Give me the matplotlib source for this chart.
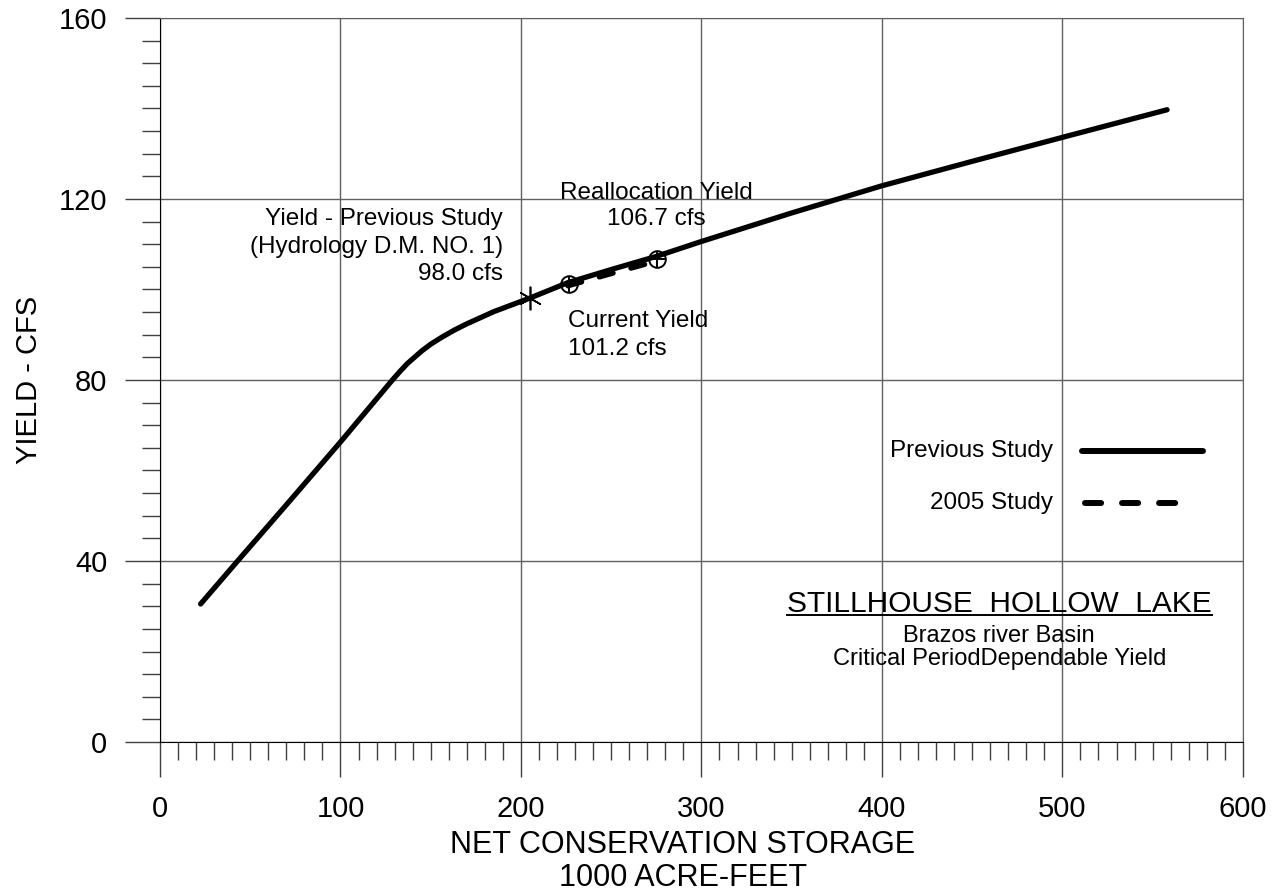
import matplotlib
matplotlib.use('Agg')
import matplotlib.pyplot as plt
from matplotlib.ticker import MultipleLocator

plt.rcParams['font.family'] = ['Liberation Sans', 'DejaVu Sans']

# previous study yield curve (storage in 1000 ac-ft, yield in cfs)
storage = [22.5, 43, 70, 100, 129, 133, 137, 141, 145, 150, 156, 163, 170,
           185, 205, 226, 250, 275, 300, 350, 400, 450, 500, 558]
yield_prev = [30.5, 40, 52.4, 66.3, 80.1, 81.9, 83.6, 85.0, 86.4, 87.9, 89.4,
              91.0, 92.4, 95.1, 98.1, 101.5, 104.4, 107.3, 110.6, 116.9,
              122.9, 128.3, 133.6, 139.7]

# 2005 study segment
storage_2005 = [226, 250, 275.5]
yield_2005 = [101.2, 103.9, 106.7]

prev_pt = (205, 98.0)
current_pt = (226.5, 101.2)
realloc_pt = (275.5, 106.7)

fig = plt.figure(figsize=(12.8, 8.94), dpi=100)
ax = fig.add_axes([0.125, 0.17, 0.846, 0.81])

ax.set_xlim(0, 600)
ax.set_ylim(0, 160)
ax.xaxis.set_major_locator(MultipleLocator(100))
ax.xaxis.set_minor_locator(MultipleLocator(10))
ax.yaxis.set_major_locator(MultipleLocator(40))
ax.yaxis.set_minor_locator(MultipleLocator(5))

ax.grid(True, which='major', color='#606060', linewidth=1)
ax.tick_params(which='major', direction='out', length=25, width=1,
               color='#404040', labelsize=21)
ax.tick_params(axis='x', which='major', pad=13)
ax.tick_params(axis='y', which='major', pad=13)
ax.tick_params(which='minor', direction='out', length=13, width=1,
               color='#404040')
for side in ['top', 'right']:
    ax.spines[side].set_color('#606060')
for side in ['left', 'bottom']:
    ax.spines[side].set_color('black')

ax.plot(storage, yield_prev, color='black', linewidth=3.8,
        solid_capstyle='round', solid_joinstyle='round', zorder=3)
ax.plot(storage_2005, [v - 0.4 for v in yield_2005], color='black',
        linewidth=3.8, linestyle=(0, (2.7, 3.5)), dash_capstyle='round',
        zorder=3)

ax.plot(*prev_pt, marker=(6, 2, 0), markersize=17, color='black',
        markeredgewidth=1.2, zorder=4)
for pt in [current_pt, realloc_pt]:
    ax.plot(*pt, marker='o', markersize=12, fillstyle='none', color='black',
            markeredgewidth=1.4, zorder=4)
    ax.plot(*pt, marker='+', markersize=12, color='black',
            markeredgewidth=1.4, zorder=4)

fs = 17.5
ax.text(190, 114.3, 'Yield - Previous Study', ha='right', va='baseline', fontsize=fs)
ax.text(190, 108.1, '(Hydrology D.M. NO. 1)', ha='right', va='baseline', fontsize=fs)
ax.text(190, 102.1, '98.0 cfs', ha='right', va='baseline', fontsize=fs)
ax.text(274.8, 119.9, 'Reallocation Yield', ha='center', va='baseline', fontsize=fs)
ax.text(274.8, 114.3, '106.7 cfs', ha='center', va='baseline', fontsize=fs)
ax.text(226, 91.7, 'Current Yield', ha='left', va='baseline', fontsize=fs)
ax.text(226, 85.5, '101.2 cfs', ha='left', va='baseline', fontsize=fs)

# legend drawn by hand
ax.text(494.7, 64.4, 'Previous Study', ha='right', va='center', fontsize=fs)
ax.plot([511, 578], [64.4, 64.4], color='black', linewidth=4.3,
        solid_capstyle='round')
ax.text(494.7, 52.8, '2005 Study', ha='right', va='center', fontsize=fs)
ax.plot([512.5, 565], [52.8, 52.8], color='black', linewidth=4.3,
        linestyle=(0, (2.7, 3.5)), dash_capstyle='round')

title = ax.text(465, 28.7, 'STILLHOUSE  HOLLOW  LAKE', ha='center',
                va='baseline', fontsize=21.5)
ax.text(465, 22.1, 'Brazos river Basin', ha='center', va='baseline', fontsize=17)
ax.text(465, 17.0, 'Critical PeriodDependable Yield', ha='center',
        va='baseline', fontsize=17)

ax.set_xlabel('NET CONSERVATION STORAGE\n1000 ACRE-FEET', fontsize=22,
              linespacing=1.1)
ax.xaxis.set_label_coords(0.483, -0.122)
ax.xaxis.label.set_va('top')
ax.set_ylabel('YIELD - CFS', fontsize=21)
ax.yaxis.set_label_coords(-0.108, 0.5)

# underline the lake name
fig.canvas.draw()
bb = title.get_window_extent().transformed(ax.transData.inverted())
ax.plot([bb.x0, bb.x1], [28.1, 28.1], color='black', linewidth=1.4)

fig.savefig('out.png', dpi=100)
